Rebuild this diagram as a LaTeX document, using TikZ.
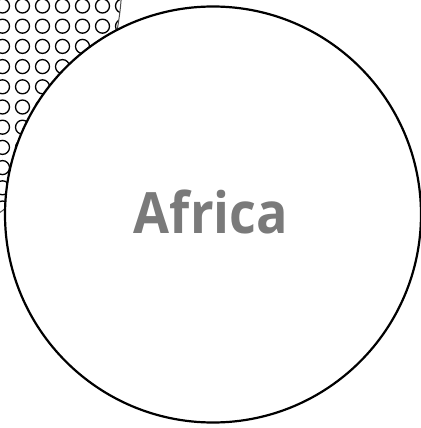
\documentclass[tikz,border=0pt]{standalone}
\usepackage{fontspec}
\setmainfont{Open Sans}
\tikzset{
  bigring/.style={draw=black, line width=2.2pt, fill=white},
  dotring/.style={draw=black, line width=1.3pt},
  patedge/.style={draw=black!70, line width=1pt},
  labeltext/.style={font=\fontsize{57}{60}\selectfont\bfseries, text=black!52, inner sep=0pt, anchor=base, xscale=0.915}
}
\begin{document}
\begin{tikzpicture}[x=1pt, y=-1pt]
\useasboundingbox (0,0) rectangle (420,428);
% patterned background circle (mostly off-canvas)
\begin{scope}
  \clip (0,0) rectangle (420,428);
  \clip (-166,-23) circle[radius=288];
  \foreach \i in {0,...,6} {
    \foreach \j in {0,...,10} {
      \draw[dotring] (2.5+20*\i, 6+20.2*\j) circle[radius=7];
    }
  }
\end{scope}
\begin{scope}
  \clip (0,0) rectangle (420,428);
  \draw[patedge] (-166,-23) circle[radius=288];
\end{scope}
% main circle
\node[circle, minimum size=416pt, bigring, inner sep=0pt] (africa) at (213,214.5) {};
\node[labeltext] (lbl) at (211,233) {Africa};
\end{tikzpicture}
\end{document}
